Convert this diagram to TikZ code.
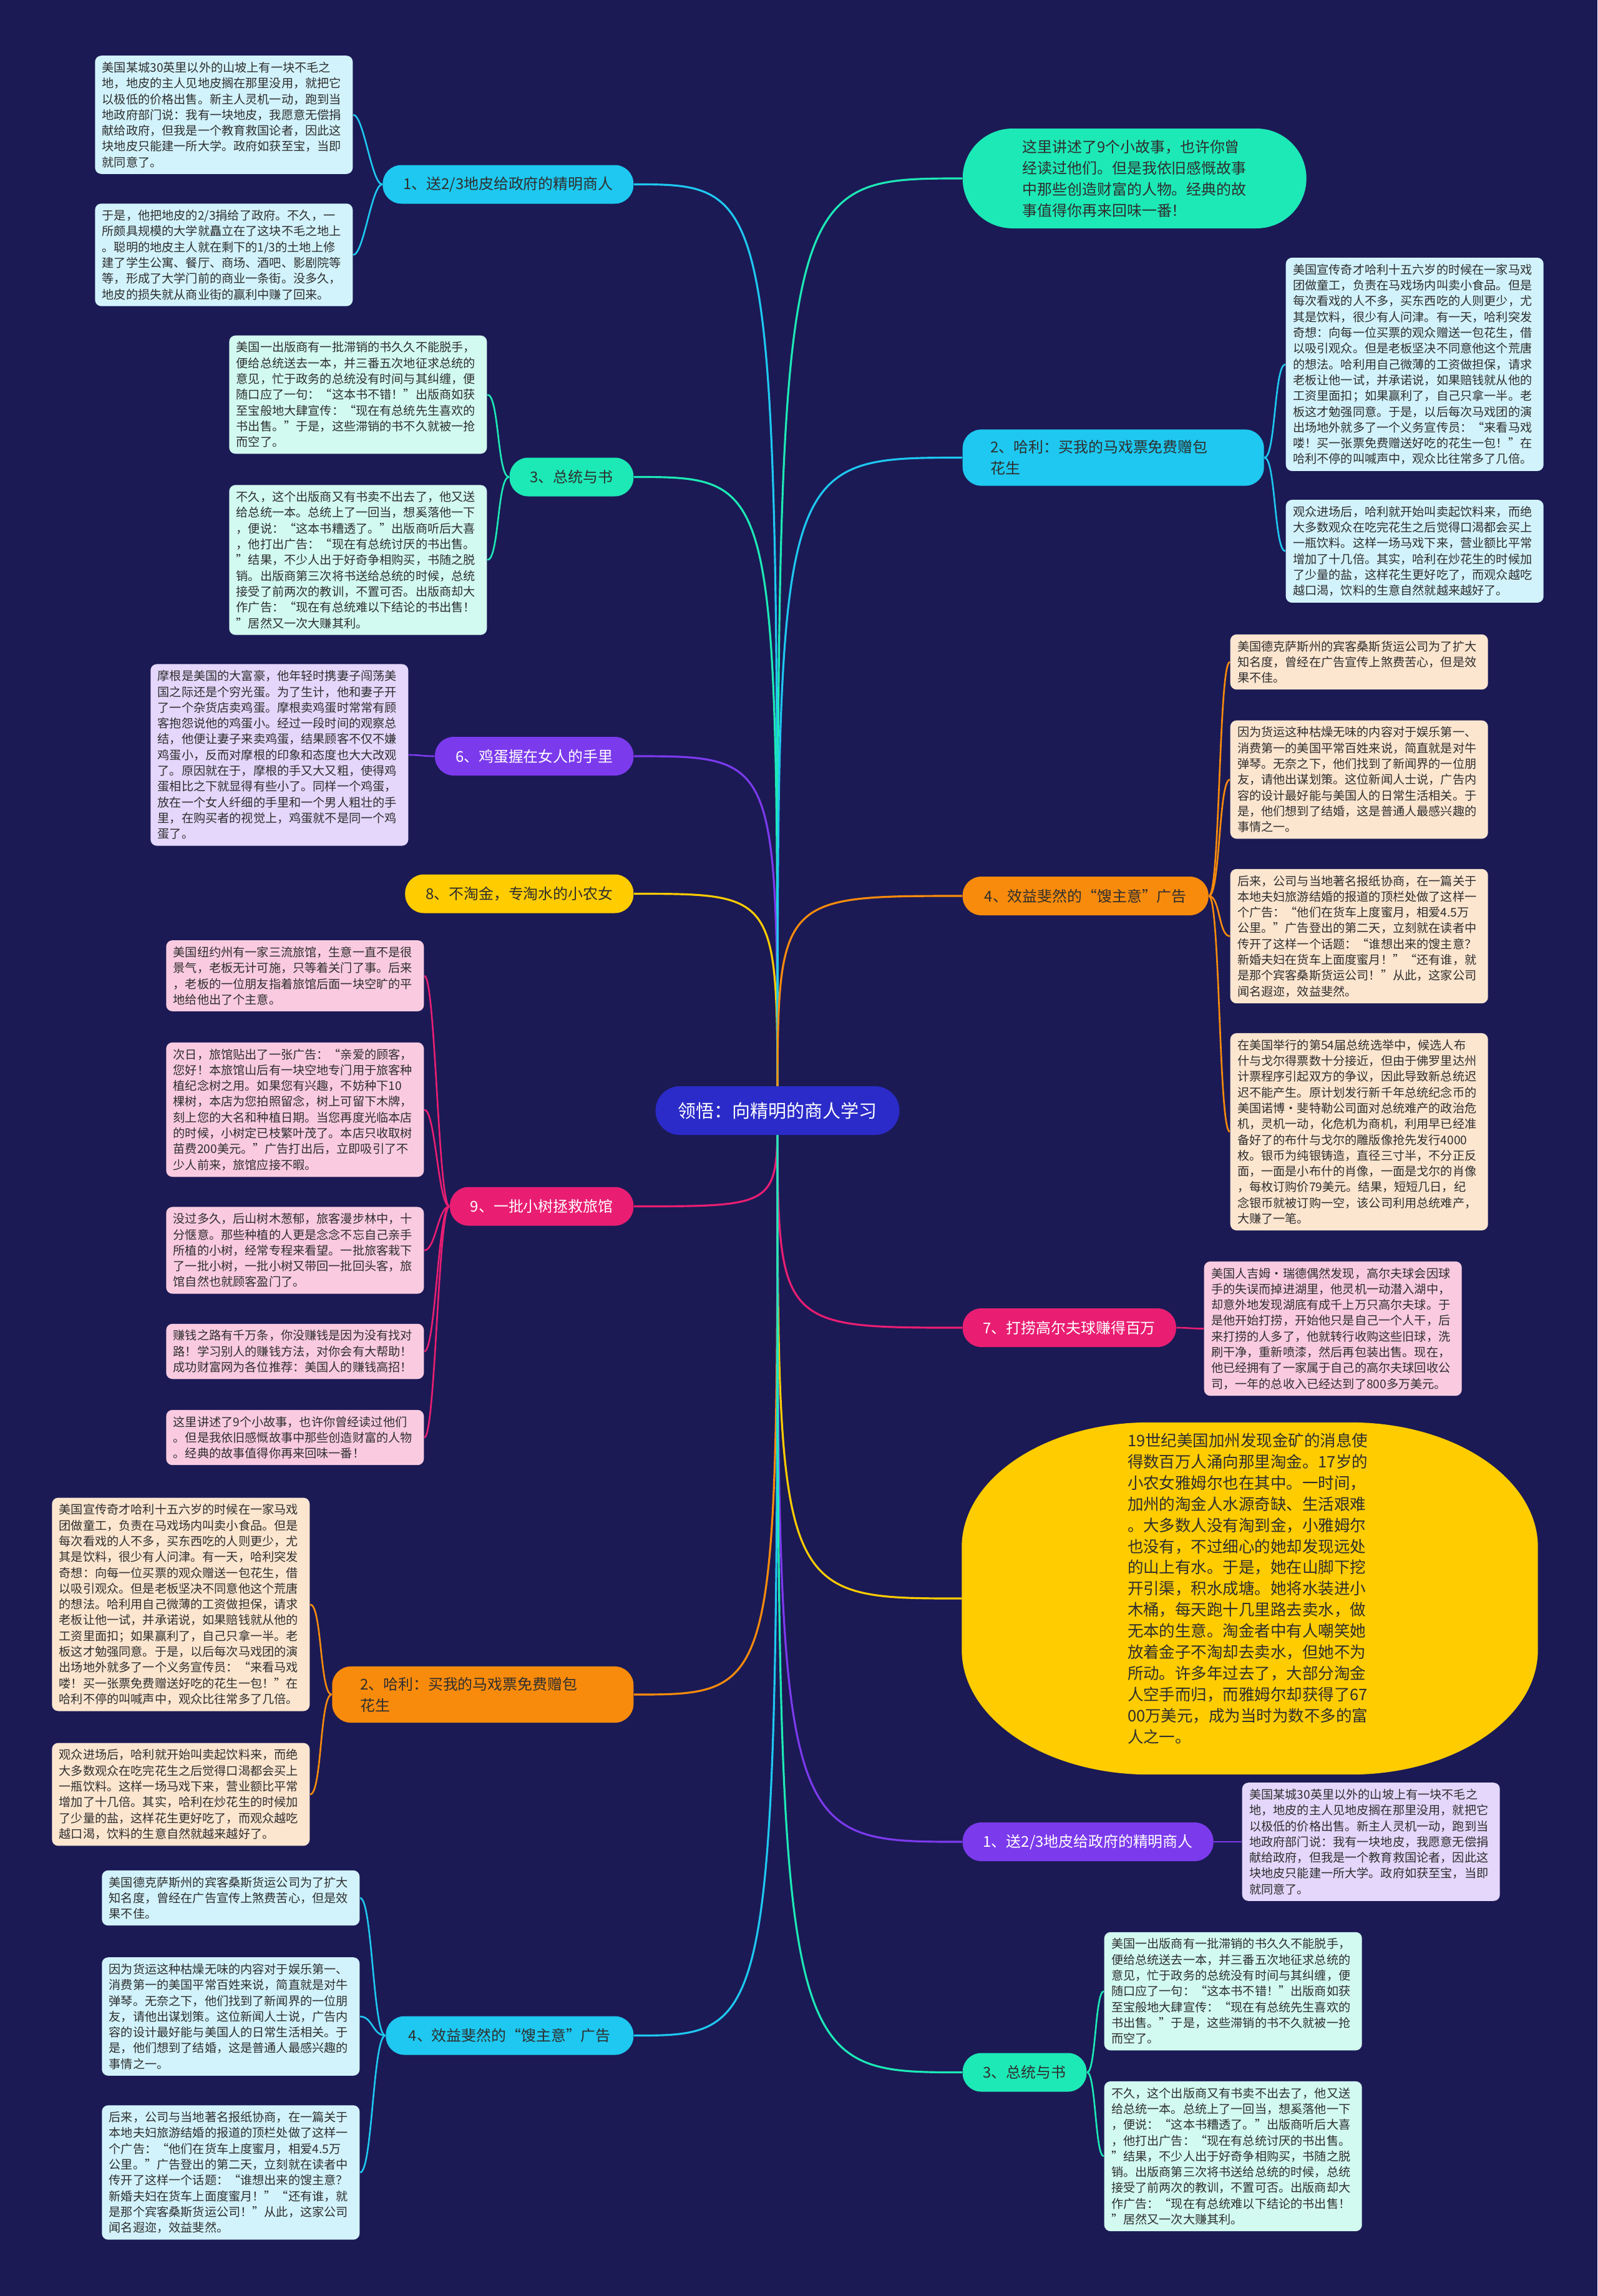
\documentclass[tikz,border=0pt]{standalone}
\usepackage{fontspec}
\setmainfont{Noto Sans CJK SC}
\usepackage{xcolor}
\usepackage{tikz}
\usetikzlibrary{shapes.geometric, positioning}

\definecolor{navy}{HTML}{1B1A55}
\definecolor{hubblue}{HTML}{2B2BC9}
\definecolor{inkdark}{HTML}{2E2E2E}
\definecolor{cyanc}{HTML}{1EC8F0}
\definecolor{mintc}{HTML}{1DE9B6}
\definecolor{violetc}{HTML}{7C3AED}
\definecolor{goldc}{HTML}{FFCC00}
\definecolor{orangec}{HTML}{F98B0C}
\definecolor{rosec}{HTML}{E91E72}
\definecolor{cyanl}{HTML}{D2F3FC}
\definecolor{mintl}{HTML}{D2FAF0}
\definecolor{violetl}{HTML}{E4D7FB}
\definecolor{orangel}{HTML}{FDE6D0}
\definecolor{rosel}{HTML}{FACBE0}

\newcommand{\leaffont}{\fontsize{5.45pt}{7.2pt}\selectfont}
\newcommand{\topicfont}{\fontsize{6.8pt}{9.7pt}\selectfont}
\newcommand{\goldfont}{\fontsize{7.25pt}{9.65pt}\selectfont}
\newcommand{\hubfont}{\fontsize{8.25pt}{10pt}\selectfont}

\pgfdeclarelayer{lines}
\pgfsetlayers{lines,main}

\begin{document}
\begin{tikzpicture}[
  every node/.style={text=inkdark},
  hub/.style={rectangle, rounded corners=0.39cm, fill=hubblue, text=white,
              minimum height=0.78cm, inner xsep=0.36cm, font=\hubfont},
  topic/.style={rectangle, rounded corners=0.3cm, minimum height=0.62cm,
                inner xsep=0.33cm, align=left, font=\topicfont},
  twoline/.style={topic, text width=3.93cm, inner xsep=0.45cm, inner ysep=0.17cm},
  leaf/.style={rectangle, rounded corners=0.1cm, text width=3.9cm,
               inner xsep=0.115cm, inner ysep=0.1cm, align=left, font=\leaffont},
  link/.style={line width=0.9pt},
  twig/.style={line width=0.75pt},
]
  \useasboundingbox (0,0) rectangle (25.6,-36.8);

  \node[hub] (hub) at (12.46,-17.80) {领悟：向精明的商人学习};

  % left topics
  \node[topic, fill=cyanc, anchor=east] (l1) at (10.16,-2.955) {1、送2/3地皮给政府的精明商人};
  \node[topic, fill=mintc, anchor=east] (l3) at (10.16,-7.645) {3、总统与书};
  \node[topic, fill=violetc, text=white, anchor=east] (l6) at (10.16,-12.12) {6、鸡蛋握在女人的手里};
  \node[topic, fill=goldc, anchor=east] (l8) at (10.16,-14.325) {8、不淘金，专淘水的小农女};
  \node[topic, fill=rosec, text=white, anchor=east] (l9) at (10.16,-19.335) {9、一批小树拯救旅馆};
  \node[twoline, fill=orangec, anchor=east] (l2) at (10.16,-27.16) {2、哈利：买我的马戏票免费赠包\\花生};
  \node[topic, fill=cyanc, anchor=east, minimum width=3.97cm] (l4) at (10.16,-32.625) {4、效益斐然的“馊主意”广告};

  % right topics
  \node[rectangle, rounded corners=0.8cm, fill=mintc, anchor=west, align=left,
        font=\topicfont, minimum width=5.51cm, minimum height=1.6cm, inner xsep=0.9cm]
        (intro) at (15.42,-2.86) {这里讲述了9个小故事，也许你曾\\经读过他们。但是我依旧感慨故事\\中那些创造财富的人物。经典的故\\事值得你再来回味一番！};
  \node[twoline, fill=cyanc, anchor=west] (r2) at (15.42,-7.335) {2、哈利：买我的马戏票免费赠包\\花生};
  \node[topic, fill=orangec, anchor=west, minimum width=3.94cm] (r4) at (15.42,-14.36) {4、效益斐然的“馊主意”广告};
  \node[topic, fill=rosec, text=white, anchor=west] (r7) at (15.42,-21.28) {7、打捞高尔夫球赚得百万};
  \node[rectangle, minimum width=9.22cm, minimum height=5.63cm, inner sep=0pt]
        (gold) at (20.03,-25.62) {};
  \fill[goldc] ([xshift=3cm]gold.north west) -- ([xshift=-3cm]gold.north east)
    arc[start angle=90, end angle=0, x radius=3cm, y radius=2cm]
    -- ([yshift=2cm]gold.south east)
    arc[start angle=0, end angle=-90, x radius=3cm, y radius=2cm]
    -- ([xshift=3cm]gold.south west)
    arc[start angle=270, end angle=180, x radius=3cm, y radius=2cm]
    -- ([yshift=-2cm]gold.north west)
    arc[start angle=180, end angle=90, x radius=3cm, y radius=2cm] -- cycle;
  \node[text width=3.9cm, align=left, font=\goldfont] (goldtxt) at (20.02,-25.46)
        {19世纪美国加州发现金矿的消息使\\得数百万人涌向那里淘金。17岁的\\小农女雅姆尔也在其中。一时间，\\加州的淘金人水源奇缺、生活艰难\\。大多数人没有淘到金，小雅姆尔\\也没有，不过细心的她却发现远处\\的山上有水。于是，她在山脚下挖\\开引渠，积水成塘。她将水装进小\\木桶，每天跑十几里路去卖水，做\\无本的生意。淘金者中有人嘲笑她\\放着金子不淘却去卖水，但她不为\\所动。许多年过去了，大部分淘金\\人空手而归，而雅姆尔却获得了67\\00万美元，成为当时为数不多的富\\人之一。};
  \node[topic, fill=violetc, text=white, anchor=west] (r1) at (15.42,-29.52) {1、送2/3地皮给政府的精明商人};
  \node[topic, fill=mintc, anchor=west] (r3) at (15.42,-33.215) {3、总统与书};

  % left leaves
  \node[leaf, fill=cyanl, anchor=east] (l1a) at (5.66,-1.84) {美国某城30英里以外的山坡上有一块不毛之\\地，地皮的主人见地皮搁在那里没用，就把它\\以极低的价格出售。新主人灵机一动，跑到当\\地政府部门说：我有一块地皮，我愿意无偿捐\\献给政府，但我是一个教育救国论者，因此这\\块地皮只能建一所大学。政府如获至宝，当即\\就同意了。};
  \node[leaf, fill=cyanl, anchor=east] (l1b) at (5.66,-4.085) {于是，他把地皮的2/3捐给了政府。不久，一\\所颇具规模的大学就矗立在了这块不毛之地上\\。聪明的地皮主人就在剩下的1/3的土地上修\\建了学生公寓、餐厅、商场、酒吧、影剧院等\\等，形成了大学门前的商业一条街。没多久，\\地皮的损失就从商业街的赢利中赚了回来。};
  \node[leaf, fill=mintl, anchor=east] (l3a) at (7.81,-6.325) {美国一出版商有一批滞销的书久久不能脱手，\\便给总统送去一本，并三番五次地征求总统的\\意见，忙于政务的总统没有时间与其纠缠，便\\随口应了一句：“这本书不错！”出版商如获\\至宝般地大肆宣传：“现在有总统先生喜欢的\\书出售。”于是，这些滞销的书不久就被一抢\\而空了。};
  \node[leaf, fill=mintl, anchor=east] (l3b) at (7.81,-8.975) {不久，这个出版商又有书卖不出去了，他又送\\给总统一本。总统上了一回当，想奚落他一下\\，便说：“这本书糟透了。”出版商听后大喜\\，他打出广告：“现在有总统讨厌的书出售。\\”结果，不少人出于好奇争相购买，书随之脱\\销。出版商第三次将书送给总统的时候，总统\\接受了前两次的教训，不置可否。出版商却大\\作广告：“现在有总统难以下结论的书出售！\\”居然又一次大赚其利。};
  \node[leaf, fill=violetl, anchor=east] (l6a) at (6.55,-12.10) {摩根是美国的大富豪，他年轻时携妻子闯荡美\\国之际还是个穷光蛋。为了生计，他和妻子开\\了一个杂货店卖鸡蛋。摩根卖鸡蛋时常常有顾\\客抱怨说他的鸡蛋小。经过一段时间的观察总\\结，他便让妻子来卖鸡蛋，结果顾客不仅不嫌\\鸡蛋小，反而对摩根的印象和态度也大大改观\\了。原因就在于，摩根的手又大又粗，使得鸡\\蛋相比之下就显得有些小了。同样一个鸡蛋，\\放在一个女人纤细的手里和一个男人粗壮的手\\里，在购买者的视觉上，鸡蛋就不是同一个鸡\\蛋了。};
  \node[leaf, fill=rosel, anchor=east] (l9a) at (6.80,-15.64) {美国纽约州有一家三流旅馆，生意一直不是很\\景气，老板无计可施，只等着关门了事。后来\\，老板的一位朋友指着旅馆后面一块空旷的平\\地给他出了个主意。};
  \node[leaf, fill=rosel, anchor=east] (l9b) at (6.80,-17.785) {次日，旅馆贴出了一张广告：“亲爱的顾客，\\您好！本旅馆山后有一块空地专门用于旅客种\\植纪念树之用。如果您有兴趣，不妨种下10\\棵树，本店为您拍照留念，树上可留下木牌，\\刻上您的大名和种植日期。当您再度光临本店\\的时候，小树定已枝繁叶茂了。本店只收取树\\苗费200美元。”广告打出后，立即吸引了不\\少人前来，旅馆应接不暇。};
  \node[leaf, fill=rosel, anchor=east] (l9c) at (6.80,-20.04) {没过多久，后山树木葱郁，旅客漫步林中，十\\分惬意。那些种植的人更是念念不忘自己亲手\\所植的小树，经常专程来看望。一批旅客栽下\\了一批小树，一批小树又带回一批回头客，旅\\馆自然也就顾客盈门了。};
  \node[leaf, fill=rosel, anchor=east] (l9d) at (6.80,-21.66) {赚钱之路有千万条，你没赚钱是因为没有找对\\路！学习别人的赚钱方法，对你会有大帮助！\\成功财富网为各位推荐：美国人的赚钱高招！};
  \node[leaf, fill=rosel, anchor=east] (l9e) at (6.80,-23.04) {这里讲述了9个小故事，也许你曾经读过他们\\。但是我依旧感慨故事中那些创造财富的人物\\。经典的故事值得你再来回味一番！};
  \node[leaf, fill=orangel, anchor=east] (l2a) at (4.97,-25.715) {美国宣传奇才哈利十五六岁的时候在一家马戏\\团做童工，负责在马戏场内叫卖小食品。但是\\每次看戏的人不多，买东西吃的人则更少，尤\\其是饮料，很少有人问津。有一天，哈利突发\\奇想：向每一位买票的观众赠送一包花生，借\\以吸引观众。但是老板坚决不同意他这个荒唐\\的想法。哈利用自己微薄的工资做担保，请求\\老板让他一试，并承诺说，如果赔钱就从他的\\工资里面扣；如果赢利了，自己只拿一半。老\\板这才勉强同意。于是，以后每次马戏团的演\\出场地外就多了一个义务宣传员：“来看马戏\\喽！买一张票免费赠送好吃的花生一包！”在\\哈利不停的叫喊声中，观众比往常多了几倍。};
  \node[leaf, fill=orangel, anchor=east] (l2b) at (4.97,-28.76) {观众进场后，哈利就开始叫卖起饮料来，而绝\\大多数观众在吃完花生之后觉得口渴都会买上\\一瓶饮料。这样一场马戏下来，营业额比平常\\增加了十几倍。其实，哈利在炒花生的时候加\\了少量的盐，这样花生更好吃了，而观众越吃\\越口渴，饮料的生意自然就越来越好了。};
  \node[leaf, fill=cyanl, anchor=east] (l4a) at (5.77,-30.42) {美国德克萨斯州的宾客桑斯货运公司为了扩大\\知名度，曾经在广告宣传上煞费苦心，但是效\\果不佳。};
  \node[leaf, fill=cyanl, anchor=east] (l4b) at (5.77,-32.32) {因为货运这种枯燥无味的内容对于娱乐第一、\\消费第一的美国平常百姓来说，简直就是对牛\\弹琴。无奈之下，他们找到了新闻界的一位朋\\友，请他出谋划策。这位新闻人士说，广告内\\容的设计最好能与美国人的日常生活相关。于\\是，他们想到了结婚，这是普通人最感兴趣的\\事情之一。};
  \node[leaf, fill=cyanl, anchor=east] (l4c) at (5.77,-34.82) {后来，公司与当地著名报纸协商，在一篇关于\\本地夫妇旅游结婚的报道的顶栏处做了这样一\\个广告：“他们在货车上度蜜月，相爱4.5万\\公里。”广告登出的第二天，立刻就在读者中\\传开了这样一个话题：“谁想出来的馊主意？\\新婚夫妇在货车上面度蜜月！”“还有谁，就\\是那个宾客桑斯货运公司！”从此，这家公司\\闻名遐迩，效益斐然。};

  % right leaves
  \node[leaf, fill=cyanl, anchor=west] (r2a) at (20.60,-5.84) {美国宣传奇才哈利十五六岁的时候在一家马戏\\团做童工，负责在马戏场内叫卖小食品。但是\\每次看戏的人不多，买东西吃的人则更少，尤\\其是饮料，很少有人问津。有一天，哈利突发\\奇想：向每一位买票的观众赠送一包花生，借\\以吸引观众。但是老板坚决不同意他这个荒唐\\的想法。哈利用自己微薄的工资做担保，请求\\老板让他一试，并承诺说，如果赔钱就从他的\\工资里面扣；如果赢利了，自己只拿一半。老\\板这才勉强同意。于是，以后每次马戏团的演\\出场地外就多了一个义务宣传员：“来看马戏\\喽！买一张票免费赠送好吃的花生一包！”在\\哈利不停的叫喊声中，观众比往常多了几倍。};
  \node[leaf, fill=cyanl, anchor=west] (r2b) at (20.60,-8.835) {观众进场后，哈利就开始叫卖起饮料来，而绝\\大多数观众在吃完花生之后觉得口渴都会买上\\一瓶饮料。这样一场马戏下来，营业额比平常\\增加了十几倍。其实，哈利在炒花生的时候加\\了少量的盐，这样花生更好吃了，而观众越吃\\越口渴，饮料的生意自然就越来越好了。};
  \node[leaf, fill=orangel, anchor=west] (r4a) at (19.71,-10.61) {美国德克萨斯州的宾客桑斯货运公司为了扩大\\知名度，曾经在广告宣传上煞费苦心，但是效\\果不佳。};
  \node[leaf, fill=orangel, anchor=west] (r4b) at (19.71,-12.495) {因为货运这种枯燥无味的内容对于娱乐第一、\\消费第一的美国平常百姓来说，简直就是对牛\\弹琴。无奈之下，他们找到了新闻界的一位朋\\友，请他出谋划策。这位新闻人士说，广告内\\容的设计最好能与美国人的日常生活相关。于\\是，他们想到了结婚，这是普通人最感兴趣的\\事情之一。};
  \node[leaf, fill=orangel, anchor=west] (r4c) at (19.71,-15.005) {后来，公司与当地著名报纸协商，在一篇关于\\本地夫妇旅游结婚的报道的顶栏处做了这样一\\个广告：“他们在货车上度蜜月，相爱4.5万\\公里。”广告登出的第二天，立刻就在读者中\\传开了这样一个话题：“谁想出来的馊主意？\\新婚夫妇在货车上面度蜜月！”“还有谁，就\\是那个宾客桑斯货运公司！”从此，这家公司\\闻名遐迩，效益斐然。};
  \node[leaf, fill=orangel, anchor=west] (r4d) at (19.71,-18.14) {在美国举行的第54届总统选举中，候选人布\\什与戈尔得票数十分接近，但由于佛罗里达州\\计票程序引起双方的争议，因此导致新总统迟\\迟不能产生。原计划发行新千年总统纪念币的\\美国诺博·斐特勒公司面对总统难产的政治危\\机，灵机一动，化危机为商机，利用早已经准\\备好了的布什与戈尔的雕版像抢先发行4000\\枚。银币为纯银铸造，直径三寸半，不分正反\\面，一面是小布什的肖像，一面是戈尔的肖像\\，每枚订购价79美元。结果，短短几日，纪\\念银币就被订购一空，该公司利用总统难产，\\大赚了一笔。};
  \node[leaf, fill=rosel, anchor=west] (r7a) at (19.29,-21.295) {美国人吉姆·瑞德偶然发现，高尔夫球会因球\\手的失误而掉进湖里，他灵机一动潜入湖中，\\却意外地发现湖底有成千上万只高尔夫球。于\\是他开始打捞，开始他只是自己一个人干，后\\来打捞的人多了，他就转行收购这些旧球，洗\\刷干净，重新喷漆，然后再包装出售。现在，\\他已经拥有了一家属于自己的高尔夫球回收公\\司，一年的总收入已经达到了800多万美元。};
  \node[leaf, fill=violetl, anchor=west] (r1a) at (19.90,-29.52) {美国某城30英里以外的山坡上有一块不毛之\\地，地皮的主人见地皮搁在那里没用，就把它\\以极低的价格出售。新主人灵机一动，跑到当\\地政府部门说：我有一块地皮，我愿意无偿捐\\献给政府，但我是一个教育救国论者，因此这\\块地皮只能建一所大学。政府如获至宝，当即\\就同意了。};
  \node[leaf, fill=mintl, anchor=west] (r3a) at (17.69,-31.915) {美国一出版商有一批滞销的书久久不能脱手，\\便给总统送去一本，并三番五次地征求总统的\\意见，忙于政务的总统没有时间与其纠缠，便\\随口应了一句：“这本书不错！”出版商如获\\至宝般地大肆宣传：“现在有总统先生喜欢的\\书出售。”于是，这些滞销的书不久就被一抢\\而空了。};
  \node[leaf, fill=mintl, anchor=west] (r3b) at (17.69,-34.56) {不久，这个出版商又有书卖不出去了，他又送\\给总统一本。总统上了一回当，想奚落他一下\\，便说：“这本书糟透了。”出版商听后大喜\\，他打出广告：“现在有总统讨厌的书出售。\\”结果，不少人出于好奇争相购买，书随之脱\\销。出版商第三次将书送给总统的时候，总统\\接受了前两次的教训，不置可否。出版商却大\\作广告：“现在有总统难以下结论的书出售！\\”居然又一次大赚其利。};

  \begin{pgfonlayer}{lines}
    \fill[navy] (0,0) rectangle (25.6,-36.8);
    % hub to topics
    \draw[link, cyanc] (hub.center) .. controls (hub.center |- l1.east) .. (l1.east);
    \draw[link, mintc] (hub.center) .. controls (hub.center |- l3.east) .. (l3.east);
    \draw[link, violetc] (hub.center) .. controls (hub.center |- l6.east) .. (l6.east);
    \draw[link, goldc] (hub.center) .. controls (hub.center |- l8.east) .. (l8.east);
    \draw[link, rosec] (hub.center) .. controls (hub.center |- l9.east) .. (l9.east);
    \draw[link, orangec] (hub.center) .. controls (hub.center |- l2.east) .. (l2.east);
    \draw[link, cyanc] (hub.center) .. controls (hub.center |- l4.east) .. (l4.east);
    \draw[link, mintc] (hub.center) .. controls (hub.center |- intro.west) .. (intro.west);
    \draw[link, cyanc] (hub.center) .. controls (hub.center |- r2.west) .. (r2.west);
    \draw[link, orangec] (hub.center) .. controls (hub.center |- r4.west) .. (r4.west);
    \draw[link, rosec] (hub.center) .. controls (hub.center |- r7.west) .. (r7.west);
    \draw[link, goldc] (hub.center) .. controls (hub.center |- gold.west) .. (gold.west);
    \draw[link, violetc] (hub.center) .. controls (hub.center |- r1.west) .. (r1.west);
    \draw[link, mintc] (hub.center) .. controls (hub.center |- r3.west) .. (r3.west);
    % topics to leaves
    \draw[twig, cyanc] (l1.west) .. controls +(-0.17,0) and +(0.17,0) .. (l1a.east);
    \draw[twig, cyanc] (l1.west) .. controls +(-0.17,0) and +(0.17,0) .. (l1b.east);
    \draw[twig, mintc] (l3.west) .. controls +(-0.19,0) and +(0.19,0) .. (l3a.east);
    \draw[twig, mintc] (l3.west) .. controls +(-0.19,0) and +(0.19,0) .. (l3b.east);
    \draw[twig, violetc] (l6.west) .. controls +(-0.2,0) and +(0.2,0) .. (l6a.east);
    \draw[twig, rosec] (l9.west) .. controls +(-0.18,0) and +(0.18,0) .. (l9a.east);
    \draw[twig, rosec] (l9.west) .. controls +(-0.18,0) and +(0.18,0) .. (l9b.east);
    \draw[twig, rosec] (l9.west) .. controls +(-0.18,0) and +(0.18,0) .. (l9c.east);
    \draw[twig, rosec] (l9.west) .. controls +(-0.18,0) and +(0.18,0) .. (l9d.east);
    \draw[twig, rosec] (l9.west) .. controls +(-0.18,0) and +(0.18,0) .. (l9e.east);
    \draw[twig, orangec] (l2.west) .. controls +(-0.19,0) and +(0.19,0) .. (l2a.east);
    \draw[twig, orangec] (l2.west) .. controls +(-0.19,0) and +(0.19,0) .. (l2b.east);
    \draw[twig, cyanc] (l4.west) .. controls +(-0.2,0) and +(0.2,0) .. (l4a.east);
    \draw[twig, cyanc] (l4.west) .. controls +(-0.2,0) and +(0.2,0) .. (l4b.east);
    \draw[twig, cyanc] (l4.west) .. controls +(-0.2,0) and +(0.2,0) .. (l4c.east);
    \draw[twig, cyanc] (r2.east) .. controls +(0.18,0) and +(-0.18,0) .. (r2a.west);
    \draw[twig, cyanc] (r2.east) .. controls +(0.18,0) and +(-0.18,0) .. (r2b.west);
    \draw[twig, orangec] (r4.east) .. controls +(0.18,0) and +(-0.18,0) .. (r4a.west);
    \draw[twig, orangec] (r4.east) .. controls +(0.18,0) and +(-0.18,0) .. (r4b.west);
    \draw[twig, orangec] (r4.east) .. controls +(0.18,0) and +(-0.18,0) .. (r4c.west);
    \draw[twig, orangec] (r4.east) .. controls +(0.18,0) and +(-0.18,0) .. (r4d.west);
    \draw[twig, rosec] (r7.east) .. controls +(0.2,0) and +(-0.2,0) .. (r7a.west);
    \draw[twig, violetc] (r1.east) .. controls +(0.19,0) and +(-0.19,0) .. (r1a.west);
    \draw[twig, mintc] (r3.east) .. controls +(0.14,0) and +(-0.14,0) .. (r3a.west);
    \draw[twig, mintc] (r3.east) .. controls +(0.14,0) and +(-0.14,0) .. (r3b.west);
  \end{pgfonlayer}
\end{tikzpicture}
\end{document}
